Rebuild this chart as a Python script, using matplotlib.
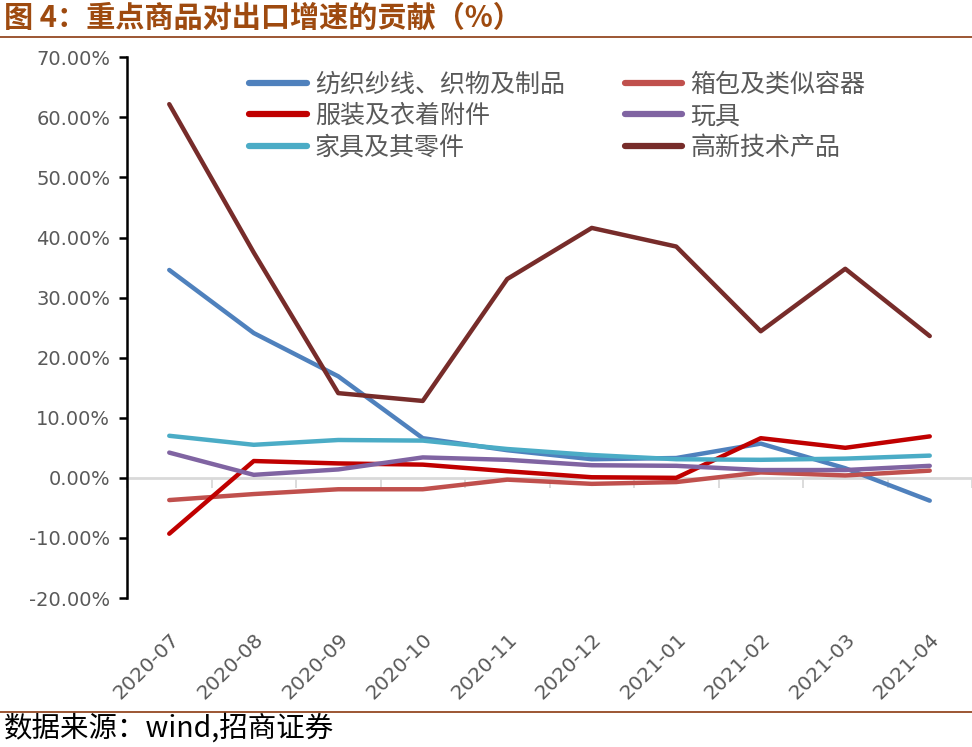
import matplotlib
matplotlib.use("Agg")
import matplotlib.pyplot as plt
from matplotlib.lines import Line2D
import numpy as np

plt.rcParams['font.family'] = ['Noto Sans CJK SC', 'DejaVu Sans']

months = ["2020-07", "2020-08", "2020-09", "2020-10", "2020-11", "2020-12",
          "2021-01", "2021-02", "2021-03", "2021-04"]

textile = [34.6, 24.1, 16.9, 6.6, 4.6, 3.1, 3.3, 5.7, 1.6, -3.8]
bags = [-3.7, -2.7, -1.9, -1.9, -0.3, -1.0, -0.7, 0.9, 0.4, 1.2]
apparel = [-9.3, 2.8, 2.4, 2.2, 1.1, 0.1, 0.0, 6.6, 5.0, 6.9]
toys = [4.2, 0.5, 1.4, 3.4, 3.0, 2.1, 2.0, 1.3, 1.3, 2.0]
furniture = [7.0, 5.5, 6.3, 6.2, 4.8, 3.8, 3.1, 3.0, 3.2, 3.7]
hightech = [62.2, 37.5, 14.1, 12.8, 33.1, 41.6, 38.5, 24.4, 34.8, 23.6]

series = [
    ("纺织纱线、织物及制品", textile, "#4F81BD"),
    ("箱包及类似容器", bags, "#C0504D"),
    ("服装及衣着附件", apparel, "#C00000"),
    ("玩具", toys, "#8064A2"),
    ("家具及其零件", furniture, "#4BACC6"),
    ("高新技术产品", hightech, "#772C2A"),
]

yticks = [70, 60, 50, 40, 30, 20, 10, 0, -10, -20]

W, H = 972, 747
fig = plt.figure(figsize=(W / 100, H / 100), dpi=100)
ax = fig.add_axes([127 / W, 1 - 598 / H, 1 - 127 / W, (598 - 57.3) / H])

x = np.arange(len(months))
ax.set_xlim(-0.5, len(months) - 0.5)
ax.set_ylim(-20, 70)

# zero line with category-boundary ticks
zero_frac = (0 - (-20)) / 90
sec = ax.secondary_xaxis(zero_frac)
sec.set_xticks(np.arange(len(months) + 1) - 0.5)
sec.tick_params(axis='x', direction='out', length=7, width=1.3, color='#D9D9D9',
                labelbottom=False, labeltop=False, bottom=True, top=False)
for s in sec.spines.values():
    s.set_visible(False)
sec.spines['bottom'].set_visible(True)
sec.spines['bottom'].set_color('#D9D9D9')
sec.spines['bottom'].set_linewidth(2)

handles = {}
for name, vals, col in series:
    ax.plot(x, vals, color=col, lw=3.2, solid_capstyle='round',
            solid_joinstyle='round', zorder=3)
    handles[name] = Line2D([], [], color=col, lw=4.5, solid_capstyle='round')

for sp in ['top', 'right', 'bottom']:
    ax.spines[sp].set_visible(False)
ax.spines['left'].set_color('black')
ax.spines['left'].set_linewidth(1.8)

ax.set_yticks(yticks)
ax.set_yticklabels([f"{v:.2f}%" for v in yticks], fontsize=14, color='#595959',
                   family=['DejaVu Sans'])
ax.tick_params(axis='y', direction='out', length=6, width=1.8, color='black', pad=6)

ax.set_xticks(x)
ax.set_xticklabels(months, rotation=45, ha='right', rotation_mode='anchor',
                   fontsize=14.5, color='#595959', family=['DejaVu Sans'])
ax.tick_params(axis='x', length=0, pad=23)

# legend filled row by row (matplotlib fills columns, so reorder)
names = [s[0] for s in series]
order = names[0::2] + names[1::2]
leg = ax.legend([handles[n] for n in order], order, ncol=2, loc='upper left',
                bbox_to_anchor=(0.118, 1.015), frameon=False, fontsize=18,
                handlelength=2.3, handletextpad=0.32, columnspacing=2.4,
                labelspacing=0.22, labelcolor='#595959')

# title and footer
fig.text(4 / W, 1 - 18 / H, "图 4：重点商品对出口增速的贡献（%）", fontsize=21,
         fontweight='bold', color='#9E4A0F', va='center', ha='left')
fig.add_artist(Line2D([0, 1], [1 - 37 / H, 1 - 37 / H], color='#8B3A10', lw=1.2,
                      transform=fig.transFigure))
fig.add_artist(Line2D([0, 1], [1 - 712 / H, 1 - 712 / H], color='#8B3A10', lw=1.2,
                      transform=fig.transFigure))
fig.text(4 / W, 1 - 729 / H, "数据来源：wind,招商证券", fontsize=20.5,
         color='black', va='center', ha='left')

fig.savefig("out.png", dpi=100)
